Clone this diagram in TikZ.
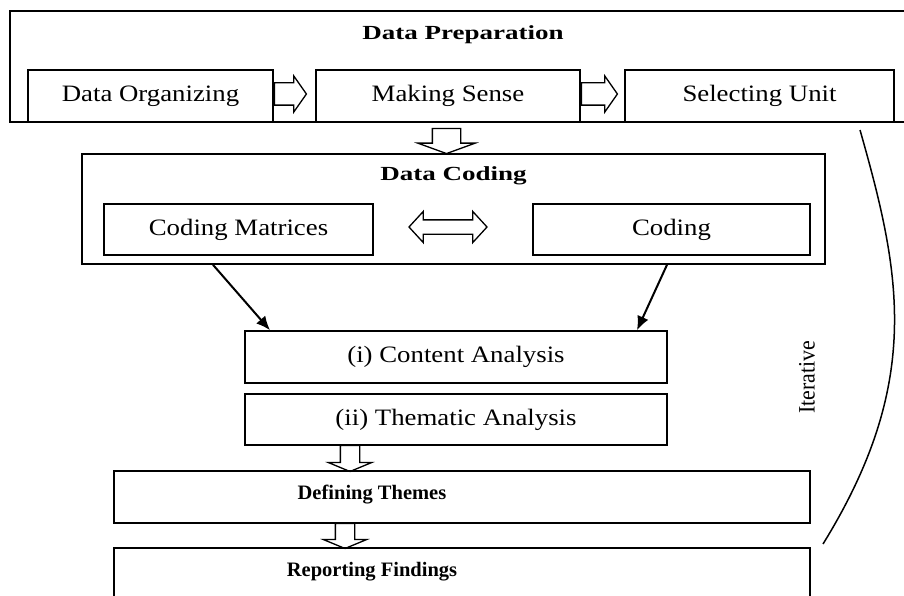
\documentclass[tikz,border=0pt]{standalone}
\usepackage{fontspec}
\setmainfont{Liberation Serif}
\newfontfamily\txtfont[FakeStretch=1.14]{Liberation Serif}
\newfontfamily\ttlfont[FakeStretch=1.35]{Liberation Serif}
\newfontfamily\iterfont[FakeStretch=0.93]{Liberation Serif}
\usetikzlibrary{arrows.meta,shapes.arrows}

\begin{document}
\begin{tikzpicture}[x=1pt,y=-1pt,>={Latex[length=14pt,width=12pt]},line width=1.6pt,inner sep=0pt,
  box/.style={draw,rectangle,font=\fontsize{23.5}{26}\txtfont},
  ttl/.style={font=\fontsize{20}{24}\ttlfont\bfseries},
  hd/.style={font=\fontsize{20.5}{24}\selectfont\bfseries},
  fat/.style={draw,single arrow,line width=1.3pt,inner xsep=0pt,minimum width=#1},
  dbl/.style={draw,double arrow,line width=1.3pt,inner xsep=0pt}]
\useasboundingbox (0,0) rectangle (904,596);
% data preparation
\node[box,minimum width=900pt,minimum height=111pt] (prep) at (460,66.5) {};
\node[ttl] (prept) at (463,35) {Data Preparation};
\node[box,minimum width=245pt,minimum height=52pt] (org) at (150.5,96) {Data Organizing};
\node[box,minimum width=264pt,minimum height=52pt] (sense) at (448,96) {Making Sense};
\node[box,minimum width=269pt,minimum height=52pt] (sel) at (759.5,96) {Selecting Unit};
\node[fat=35pt,inner ysep=10.5pt,single arrow head extend=7pt,single arrow tip angle=110,minimum height=32pt] (r1) at (286.5,94) {};
\node[fat=35pt,inner ysep=10.5pt,single arrow head extend=7pt,single arrow tip angle=110,minimum height=36pt] (r2) at (595.5,94) {};
\node[fat=56pt,inner ysep=13.5pt,single arrow head extend=14.5pt,single arrow tip angle=140,minimum height=25pt,rotate=270] (d1) at (446.5,138.5) {};
% data coding
\node[box,minimum width=743pt,minimum height=110pt] (cdg) at (453.5,209) {};
\node[ttl] (cdgt) at (453.5,176) {Data Coding};
\node[box,minimum width=269pt,minimum height=51pt] (cm) at (238.5,229.5) {Coding Matrices};
\node[box,minimum width=277pt,minimum height=51pt] (cod) at (671.5,229.5) {Coding};
\node[dbl,minimum width=30pt,inner ysep=6.5pt,double arrow head extend=8.5pt,double arrow tip angle=95,minimum height=78pt] (cc) at (448,227) {};
% analysis
\node[box,minimum width=422pt,minimum height=52pt] (con) at (456,357) {(i) Content Analysis};
\node[box,minimum width=422pt,minimum height=51pt] (thm) at (456,419.5) {(ii) Thematic Analysis};
\draw[->,line width=2pt] ([xshift=-240.5pt]cdg.south) -- ([xshift=-186pt]con.north);
\draw[->,line width=2pt] ([xshift=213.5pt]cdg.south) -- ([xshift=181pt]con.north);
\node[fat=42pt,inner ysep=9pt,single arrow head extend=12pt,single arrow tip angle=135,minimum height=26pt,rotate=270] (d2) at (350,456.5) {};
% themes and findings
\node[box,minimum width=696pt,minimum height=52pt] (def) at (462,497) {};
\node[hd] (deft) at (372,495) {Defining Themes};
\node[fat=42pt,inner ysep=9pt,single arrow head extend=12pt,single arrow tip angle=135,minimum height=25pt,rotate=270] (d3) at (345,534) {};
\node[box,minimum width=696pt,minimum height=52pt] (rep) at (462,574) {};
\node[hd] (rept) at (372,572) {Reporting Findings};
% iterative loop
\coordinate (it1) at (860,130);
\coordinate (it2) at (823,544);
\draw[line width=1.5pt] (it1) .. controls (901,274) and (923,382) .. (it2);
\node[rotate=90,font=\fontsize{23.5}{26}\iterfont] (iter) at (807,377) {Iterative};
\end{tikzpicture}
\end{document}
